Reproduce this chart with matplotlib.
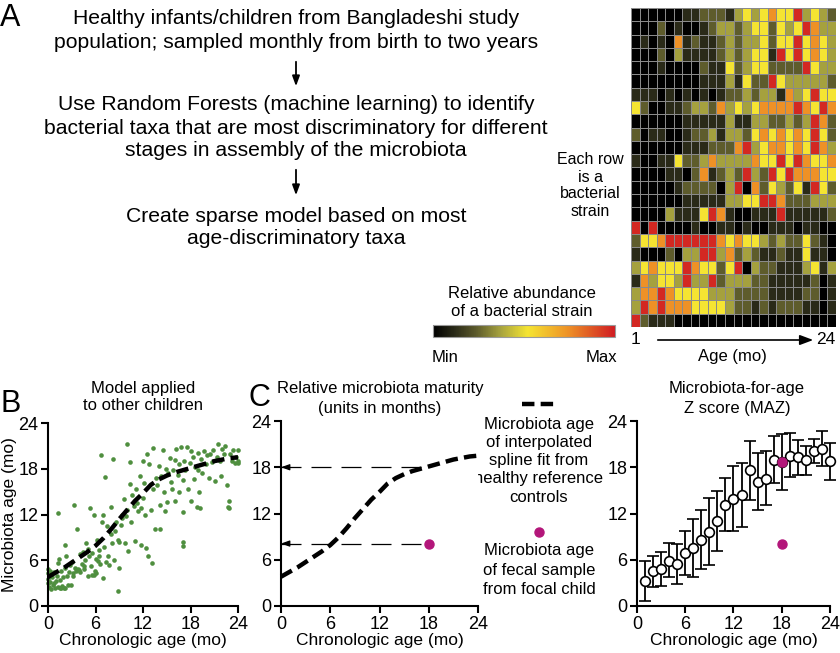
import numpy as np
import matplotlib
matplotlib.use('Agg')
import matplotlib.pyplot as plt
from matplotlib.colors import LinearSegmentedColormap, Normalize
from matplotlib.cm import ScalarMappable

plt.rcParams['font.family'] = ['Liberation Sans', 'DejaVu Sans']

# heatmap: abundance level (0 = min ... 6 = max), 24 strains x 24 months
strain_levels = [
    [0, 0, 0, 0, 0, 0, 1, 1, 2, 2, 2, 1, 3, 4, 3, 4, 5, 4, 4, 6, 3, 4, 3, 2],
    [0, 0, 0, 2, 0, 1, 0, 0, 1, 2, 3, 3, 2, 3, 4, 4, 2, 4, 3, 4, 6, 5, 3, 3],
    [0, 1, 0, 1, 0, 5, 1, 2, 1, 1, 2, 3, 2, 3, 3, 4, 2, 4, 4, 6, 4, 5, 4, 3],
    [0, 0, 0, 2, 0, 3, 1, 1, 1, 1, 2, 3, 2, 3, 4, 4, 1, 6, 4, 6, 4, 5, 4, 3],
    [0, 0, 0, 1, 0, 0, 0, 0, 2, 1, 1, 4, 2, 3, 4, 4, 2, 2, 2, 2, 6, 4, 3, 3],
    [0, 0, 0, 0, 0, 0, 0, 0, 1, 1, 1, 3, 1, 4, 2, 2, 6, 4, 3, 3, 3, 3, 3, 2],
    [1, 1, 1, 0, 1, 0, 1, 0, 1, 0, 1, 2, 2, 3, 2, 3, 3, 1, 5, 3, 4, 6, 4, 4],
    [4, 2, 0, 0, 1, 1, 2, 3, 3, 2, 5, 3, 4, 3, 4, 5, 5, 5, 5, 6, 5, 4, 6, 5],
    [0, 0, 0, 0, 0, 0, 1, 1, 1, 1, 1, 3, 1, 1, 3, 3, 2, 2, 3, 2, 3, 6, 5, 2],
    [2, 0, 1, 1, 0, 0, 1, 2, 2, 3, 1, 3, 3, 2, 4, 5, 4, 5, 4, 5, 4, 6, 4, 2],
    [0, 0, 0, 0, 0, 0, 1, 1, 1, 2, 2, 2, 5, 6, 3, 4, 5, 5, 4, 5, 4, 6, 5, 3],
    [1, 0, 0, 1, 1, 4, 2, 2, 3, 5, 3, 3, 3, 3, 5, 4, 4, 6, 4, 6, 5, 4, 4, 5],
    [0, 0, 0, 0, 1, 1, 0, 2, 5, 1, 2, 3, 2, 6, 3, 2, 6, 4, 6, 5, 5, 5, 4, 4],
    [0, 0, 0, 0, 0, 1, 2, 2, 2, 2, 0, 3, 6, 0, 5, 2, 4, 3, 2, 4, 1, 6, 4, 2],
    [0, 0, 0, 0, 0, 0, 1, 1, 1, 1, 1, 3, 3, 4, 4, 6, 6, 5, 2, 2, 2, 3, 3, 3],
    [0, 0, 0, 0, 3, 1, 1, 1, 4, 6, 5, 1, 0, 0, 1, 1, 1, 6, 1, 1, 1, 1, 1, 2],
    [6, 0, 6, 0, 0, 0, 0, 1, 0, 0, 1, 1, 0, 1, 0, 0, 1, 1, 1, 0, 1, 1, 0, 0],
    [2, 4, 4, 5, 6, 6, 6, 6, 6, 6, 5, 4, 5, 4, 4, 3, 2, 3, 2, 2, 4, 2, 1, 0],
    [1, 0, 0, 0, 2, 0, 3, 3, 6, 6, 3, 5, 2, 3, 2, 1, 1, 2, 1, 1, 4, 1, 1, 0],
    [3, 4, 5, 4, 4, 4, 6, 5, 4, 4, 2, 4, 6, 0, 3, 2, 2, 1, 1, 1, 3, 4, 1, 3],
    [1, 5, 3, 4, 4, 3, 6, 3, 3, 6, 2, 3, 3, 3, 2, 2, 1, 1, 1, 1, 1, 2, 0, 1],
    [3, 5, 5, 6, 5, 4, 4, 4, 4, 3, 3, 3, 2, 2, 2, 2, 1, 1, 1, 1, 2, 2, 0, 1],
    [3, 6, 5, 6, 5, 5, 5, 4, 4, 4, 4, 3, 2, 2, 1, 2, 1, 2, 2, 2, 1, 1, 0, 1],
    [6, 2, 1, 1, 1, 0, 0, 0, 0, 0, 0, 0, 0, 0, 0, 0, 0, 0, 0, 0, 0, 0, 0, 0],
]
level_value = [0.0, 0.12, 0.24, 0.37, 0.52, 0.74, 0.97]

# panel B: chronologic age vs predicted microbiota age
chron_age = [0, 0, 0, 0, 0.1, 0.2, 0.3, 0.3, 0.4, 0.5, 0.6, 0.7, 0.8, 0.9, 1.0, 1.1, 1.2, 1.3, 1.3,
             1.4, 1.5, 1.5, 1.6, 1.7, 1.8, 1.9, 2.0, 2.1, 2.2, 2.2, 2.3, 2.4, 2.5, 2.7, 2.8, 2.9,
             3.0, 3.1, 3.2, 3.3, 3.4, 3.5, 3.6, 3.8, 3.9, 4.0, 4.1, 4.3, 4.4, 4.5, 4.6, 4.7, 4.8,
             5.0, 5.0, 5.2, 5.3, 5.4, 5.5, 5.6, 5.8, 5.8, 5.9, 6.0, 6.1, 6.2, 6.3, 6.4, 6.5, 6.6,
             6.7, 6.8, 6.9, 7.0, 7.1, 7.2, 7.3, 7.5, 7.6, 7.7, 7.9, 8.0, 8.1, 8.2, 8.3, 8.4, 8.6,
             8.8, 8.9, 9.0, 9.0, 9.2, 9.3, 9.4, 9.6, 9.7, 9.8, 10.0, 10.0, 10.1, 10.3, 10.4, 10.5,
             10.6, 10.8, 11.0, 11.1, 11.2, 11.4, 11.6, 11.7, 11.8, 12.0, 12.0, 12.1, 12.2, 12.4,
             12.5, 12.6, 12.8, 13.0, 13.1, 13.2, 13.3, 13.5, 13.6, 13.8, 14.0, 14.1, 14.2, 14.3,
             14.5, 14.6, 14.8, 14.9, 15.0, 15.2, 15.4, 15.5, 15.6, 15.8, 16.0, 16.1, 16.2, 16.4,
             16.5, 16.6, 16.8, 17.0, 17.0, 17.1, 17.1, 17.2, 17.3, 17.5, 17.7, 17.9, 18.0, 18.1,
             18.3, 18.4, 18.6, 18.8, 18.9, 19.0, 19.1, 19.2, 19.3, 19.5, 19.7, 19.9, 20.1, 20.3,
             20.5, 20.7, 20.9, 21.1, 21.3, 21.5, 21.7, 21.9, 22.0, 22.2, 22.4, 22.6, 22.7, 22.8,
             22.9, 23.0, 23.2, 23.4, 23.6, 23.8, 24.0, 24.0, 24.0]
micro_age = [3.0, 3.5, 4.3, 4.8, 2.5, 3.2, 4.0, 4.6, 2.2, 3.8, 2.8, 3.0, 4.5, 2.4, 3.3, 4.0, 2.5, 5.6, 12.2,
             6.2, 3.4, 2.3, 2.3, 4.6, 2.6, 3.8, 2.3, 5.0, 8.0, 2.4, 6.6, 4.0, 2.8, 4.4, 5.4, 2.7,
             5.8, 4.3, 4.0, 13.3, 5.0, 4.6, 10.1, 4.8, 4.7, 6.8, 4.4, 5.5, 7.1, 5.2, 4.9, 6.0, 8.3,
             7.5, 4.0, 6.6, 12.8, 5.2, 4.1, 7.0, 12.0, 4.1, 4.6, 6.2, 4.3, 8.6, 5.9, 6.5, 7.3, 5.5,
             19.8, 11.0, 3.7, 12.0, 7.8, 16.9, 5.8, 10.5, 6.6, 5.4, 9.4, 13.0, 8.2, 19.3, 6.0, 9.8, 11.0,
             8.7, 2.0, 5.0, 8.4, 10.6, 12.0, 11.5, 14.0, 8.2, 11.8, 21.2, 12.6, 7.2, 16.0, 18.9, 11.0,
             14.6, 13.1, 8.5, 15.4, 13.5, 12.4, 17.0, 8.0, 12.9, 14.2, 19.0, 16.1, 12.0, 7.6,
             20.0, 6.6, 18.6, 12.6, 5.6, 15.4, 20.7, 10.1, 16.8, 15.9, 18.3, 10.1, 13.2, 17.1,
             20.4, 15.0, 12.5, 18.0, 13.6, 17.5, 19.4, 16.3, 15.3, 17.9, 19.2, 13.8, 20.6, 17.2,
             18.6, 14.9, 20.8, 12.3, 16.5, 8.4, 7.9, 19.0, 17.8, 20.8, 15.3, 18.8, 20.3, 13.8,
             19.5, 16.7, 18.2, 13.0, 20.1, 17.8, 15.0, 12.8, 19.3, 17.4, 20.3, 18.6, 19.8, 16.8,
             20.0, 18.9, 20.4, 16.4, 19.5, 21.2, 19.0, 17.0, 20.6, 19.9, 21.0, 15.9, 13.0, 12.8,
             13.8, 20.0, 19.0, 20.5, 18.8, 19.6, 20.4, 19.0, 18.7]

# interpolated spline fit from healthy reference controls
spline_age = [0, 1, 2, 3, 4, 5, 6, 7, 8, 9, 10, 11, 12, 13, 14, 15, 16, 17, 18, 19, 20, 21, 22, 23, 24]
spline_micro = [3.8, 4.4, 5.0, 5.7, 6.4, 7.1, 7.9, 8.9, 10.1, 11.4, 12.6, 13.8, 14.8, 15.9, 16.6,
                17.1, 17.5, 17.8, 18.1, 18.4, 18.7, 19.0, 19.2, 19.4, 19.5]

# focal child sample
focal_age = 18
focal_micro = 8.1

# MAZ panel: monthly mean microbiota age with error bars
months = list(range(1, 25))
maz_mean = [3.3, 4.5, 4.8, 5.9, 5.5, 6.9, 7.5, 8.6, 9.6, 11.0, 13.1, 13.9, 14.4, 17.6, 16.1, 16.5,
            19.0, 18.7, 19.5, 19.3, 18.9, 20.1, 20.4, 18.8]
maz_low = [0.7, 2.5, 2.6, 3.7, 2.9, 4.0, 3.7, 4.8, 5.3, 7.2, 9.7, 9.7, 10.2, 13.8, 12.4, 13.1,
           15.9, 15.0, 16.7, 17.0, 17.0, 18.5, 18.2, 16.3]
maz_high = [5.8, 6.5, 7.0, 8.2, 8.1, 9.7, 11.3, 12.4, 14.0, 14.9, 16.6, 18.1, 18.6, 21.4, 19.8, 20.1,
            22.1, 22.3, 22.4, 21.6, 20.8, 21.7, 22.7, 21.2]

W, H = 840, 653
purple = '#b3167a'
green = '#4f8f3f'


def place(left, top, right, bottom):
    return [left / W, 1 - bottom / H, (right - left) / W, (bottom - top) / H]


fig = plt.figure(figsize=(8.4, 6.53), dpi=100)

# background axes in pixel coordinates for free text and arrows
bg = fig.add_axes([0, 0, 1, 1])
bg.set_xlim(0, W)
bg.set_ylim(H, 0)
bg.axis('off')

bg.text(10, 18, 'A', fontsize=22, ha='center', va='center')
flow = [
    (19, 'Healthy infants/children from Bangladeshi study'),
    (42, 'population; sampled monthly from birth to two years'),
    (105, 'Use Random Forests (machine learning) to identify'),
    (128, 'bacterial taxa that are most discriminatory for different'),
    (150, 'stages in assembly of the microbiota'),
    (216, 'Create sparse model based on most'),
    (238, 'age-discriminatory taxa'),
]
for y, s in flow:
    bg.text(296, y, s, fontsize=15.2, ha='center', va='center')
for y0, y1 in [(59, 89), (167, 198)]:
    bg.annotate('', xy=(296, y1), xytext=(296, y0),
                arrowprops=dict(arrowstyle='-|>,head_length=0.6,head_width=0.22', color='k', lw=1.3))

for y, s in [(160, 'Each row'), (177, 'is a'), (194, 'bacterial'), (211, 'strain')]:
    bg.text(590, y, s, fontsize=11.5, ha='center', va='center')

bg.text(522, 293, 'Relative abundance', fontsize=12, ha='center', va='center')
bg.text(522, 311, 'of a bacterial strain', fontsize=12, ha='center', va='center')
bg.text(445, 357, 'Min', fontsize=12, ha='center', va='center')
bg.text(601, 357, 'Max', fontsize=12, ha='center', va='center')
bg.text(635, 340, '1', fontsize=12.5, ha='center', va='center')
bg.text(826, 340, '24', fontsize=12.5, ha='center', va='center')
bg.text(732, 357, 'Age (mo)', fontsize=12, ha='center', va='center')
bg.annotate('', xy=(816, 340), xytext=(655, 340),
            arrowprops=dict(arrowstyle='-|>,head_length=0.8,head_width=0.3', color='k', lw=1.2))

bg.text(11, 404, 'B', fontsize=22, ha='center', va='center')
bg.text(143, 388, 'Model applied', fontsize=12, ha='center', va='center')
bg.text(143, 406, 'to other children', fontsize=12, ha='center', va='center')
bg.text(259, 398, 'C', fontsize=22, ha='center', va='center')
bg.text(380, 389, 'Relative microbiota maturity', fontsize=12, ha='center', va='center')
bg.text(380, 408, '(units in months)', fontsize=12, ha='center', va='center')
bg.text(737, 388, 'Microbiota-for-age', fontsize=12, ha='center', va='center')
bg.text(737, 408, 'Z score (MAZ)', fontsize=12, ha='center', va='center')

# legend for panel C
bg.plot([522, 556], [404, 404], color='k', lw=3.2, dashes=(2.8, 1.4))
for y, s in [(424, 'Microbiota age'), (442, 'of interpolated'), (460, 'spline fit from'),
             (478, 'healthy reference'), (497, 'controls')]:
    bg.text(539, y, s, fontsize=12, ha='center', va='center')
bg.plot([539], [532], 'o', color=purple, ms=6.5)
for y, s in [(551, 'Microbiota age'), (570, 'of fecal sample'), (589, 'from focal child')]:
    bg.text(539, y, s, fontsize=12, ha='center', va='center')

# heatmap
cmap = LinearSegmentedColormap.from_list('abund', [
    (0.0, '#000000'), (0.12, '#2b2b18'), (0.24, '#5e5c2c'), (0.37, '#a6a23e'),
    (0.52, '#f5e532'), (0.74, '#ee9226'), (1.0, '#d01c22')])
norm = Normalize(0, 1)
values = np.array(level_value)[np.array(strain_levels)]
ax_hm = fig.add_axes(place(631, 8, 836, 327))
ax_hm.pcolormesh(values, cmap=cmap, norm=norm, edgecolors='#8a8a8a', linewidth=0.45)
ax_hm.set_xlim(0, 24)
ax_hm.set_ylim(24, 0)
ax_hm.axis('off')

ax_cb = fig.add_axes(place(433, 325, 615, 337))
cb = fig.colorbar(ScalarMappable(norm=norm, cmap=cmap), cax=ax_cb, orientation='horizontal')
cb.set_ticks([])
cb.outline.set_edgecolor('#9a9a9a')
cb.outline.set_linewidth(0.8)


def style(ax):
    ax.set_xlim(0, 24)
    ax.set_ylim(0, 24)
    ax.set_xticks([0, 6, 12, 18, 24])
    ax.set_yticks([0, 6, 12, 18, 24])
    for side in ['top', 'right']:
        ax.spines[side].set_visible(False)
    for side in ['left', 'bottom']:
        ax.spines[side].set_linewidth(1.5)
    ax.tick_params(direction='out', length=5, width=1.5, labelsize=13, pad=2)
    ax.set_xlabel('Chronologic age (mo)', fontsize=12.5, labelpad=0)


# panel B
ax_b = fig.add_axes(place(48, 423, 238, 606))
ax_b.scatter(chron_age, micro_age, s=11, color=green, clip_on=False, zorder=2, linewidths=0)
ax_b.plot(spline_age, spline_micro, color='k', lw=3.2, dashes=(2.8, 1.4), zorder=3)
style(ax_b)
ax_b.set_ylabel('Microbiota age (mo)', fontsize=12.5, labelpad=1)

# panel C
ax_c = fig.add_axes(place(281, 421, 478, 606))
ax_c.plot(spline_age, spline_micro, color='k', lw=3.2, dashes=(2.8, 1.4), clip_on=False)
ax_c.plot([0, 18], [18, 18], color='k', lw=0.9, dashes=(16, 8))
ax_c.plot([0, focal_age], [focal_micro, focal_micro], color='k', lw=0.9, dashes=(16, 8))
for y in [18, focal_micro]:
    ax_c.annotate('', xy=(0, y), xytext=(0.8, y),
                  arrowprops=dict(arrowstyle='-|>,head_length=0.5,head_width=0.18', color='k',
                                  lw=0.9, shrinkA=0, shrinkB=0))
ax_c.plot([focal_age], [focal_micro], 'o', color=purple, ms=6.5, zorder=4)
style(ax_c)

# MAZ panel
ax_d = fig.add_axes(place(637, 421, 830, 606))
m = np.array(maz_mean)
yerr = [m - np.array(maz_low), np.array(maz_high) - m]
ax_d.errorbar(months, maz_mean, yerr=yerr, fmt='o', mfc='white', mec='k', mew=1.2, ms=7,
              ecolor='k', elinewidth=1.3, capsize=4, capthick=1.3, clip_on=False, zorder=3)
i18 = months.index(focal_age)
ax_d.plot([focal_age], [maz_mean[i18]], 'o', color=purple, ms=6.5, zorder=4)
ax_d.plot([focal_age], [focal_micro], 'o', color=purple, ms=6.5, zorder=4)
style(ax_d)

fig.savefig('out.png', dpi=100)
